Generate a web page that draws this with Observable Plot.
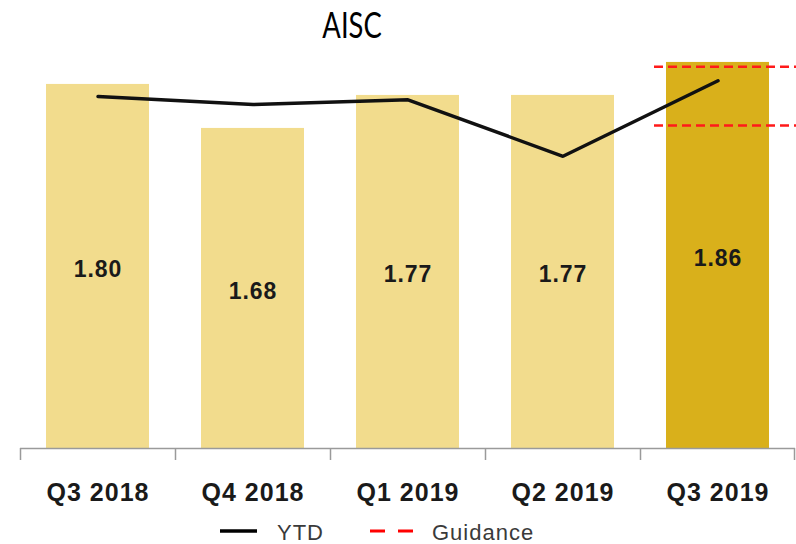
<!DOCTYPE html>
<html><head><meta charset="utf-8">
<script src="https://cdn.jsdelivr.net/npm/d3@7"></script>
<script src="https://cdn.jsdelivr.net/npm/@observablehq/plot@0.6"></script>
<style>
body{margin:0;background:#fff;}
#wrap{position:relative;width:796px;height:544px;overflow:hidden;font-family:"Liberation Sans",Arial,sans-serif;}
#title{position:absolute;left:0;top:2px;width:705px;text-align:center;font-family:"Lato";font-size:36px;line-height:44px;color:#000;}
#title span{display:inline-block;transform:scaleX(0.76);}
#chart{position:absolute;left:0;top:44px;}
#chart svg text{letter-spacing:1px;}
#legend{position:absolute;left:0;top:512px;}
#legend text{letter-spacing:1px;}
</style></head><body>
<div id="wrap"><div id="title"><span>AISC</span></div><div id="chart"></div><div id="legend"></div></div>
<script>
const quarters = ["Q3 2018", "Q4 2018", "Q1 2019", "Q2 2019", "Q3 2019"];
const aisc = [1.80, 1.68, 1.77, 1.77, 1.86];
const ytd = [1.767, 1.745, 1.758, 1.604, 1.81];
const guidance = [1.848, 1.688];
const highlightQuarter = "Q3 2019";
const legendLabels = ["YTD", "Guidance"];

const Y0 = 0.807, Y1 = 1.898;
const W = 796, H = 470, ML = 20, MR = 1, MT = 4, MB = 66;
const halfStep = (W - ML - MR) / quarters.length / 2;
const LIGHT = "#F2DC8D", DARK = "#D9B01B";

const rows = quarters.map((q, i) => ({quarter: q, aisc: aisc[i], ytd: ytd[i]}));

const chart = Plot.plot({
  width: W, height: H,
  marginLeft: ML, marginRight: MR, marginTop: MT, marginBottom: MB,
  x: {type: "band", domain: quarters, paddingInner: 0.335, paddingOuter: 0.1675, axis: null},
  y: {domain: [Y0, Y1], axis: null},
  style: {fontFamily: "Liberation Sans, Arial, sans-serif", background: "white", overflow: "visible"},
  marks: [
    Plot.barY(rows, {x: "quarter", y1: () => Y0, y2: "aisc", fill: d => d.quarter === highlightQuarter ? DARK : LIGHT}),
    Plot.ruleY([Y0], {stroke: "#9a9a9a", strokeWidth: 1.5}),
    Plot.ruleX(quarters, {x: d => d, dx: -halfStep, insetTop: H - MT - MB, insetBottom: -12, stroke: "#9a9a9a", strokeWidth: 1.5}),
    Plot.ruleX(quarters.slice(-1), {x: d => d, dx: halfStep - 1, insetTop: H - MT - MB, insetBottom: -12, stroke: "#9a9a9a", strokeWidth: 1.5}),
    Plot.tickY(guidance, {x: () => highlightQuarter, y: d => d, stroke: "#ff1a1a", strokeWidth: 2.5, strokeDasharray: "9,5", insetLeft: -12, insetRight: -30}),
    Plot.line(rows, {x: "quarter", y: "ytd", stroke: "#111", strokeWidth: 3.5, strokeLinejoin: "miter", strokeLinecap: "round"}),
    Plot.text(rows, {x: "quarter", y: d => (Y0 + d.aisc) / 2, text: d => d.aisc.toFixed(2), dy: 3, fontSize: 23, fontWeight: "bold", fill: "#1a1a1a"}),
    Plot.text(quarters, {x: d => d, y: () => Y0, text: d => d, dy: 44, fontSize: 25, fontWeight: "bold", fill: "#1a1a1a"})
  ]
});
document.getElementById("chart").appendChild(chart);

// legend
const lg = d3.select("#legend").append("svg").attr("width", W).attr("height", 32)
  .style("font-family", "Liberation Sans, Arial, sans-serif");
lg.append("line").attr("x1", 220).attr("x2", 257).attr("y1", 19).attr("y2", 19)
  .attr("stroke", "#000").attr("stroke-width", 3.5);
lg.append("text").attr("x", 277).attr("y", 27.5).attr("font-size", 22).attr("fill", "#3a3a3a").text(legendLabels[0]);
lg.append("line").attr("x1", 370).attr("x2", 415).attr("y1", 19).attr("y2", 19)
  .attr("stroke", "#ff0000").attr("stroke-width", 3).attr("stroke-dasharray", "15,13");
lg.append("text").attr("x", 432).attr("y", 27.5).attr("font-size", 22).attr("fill", "#3a3a3a").text(legendLabels[1]);
</script>
</body></html>
